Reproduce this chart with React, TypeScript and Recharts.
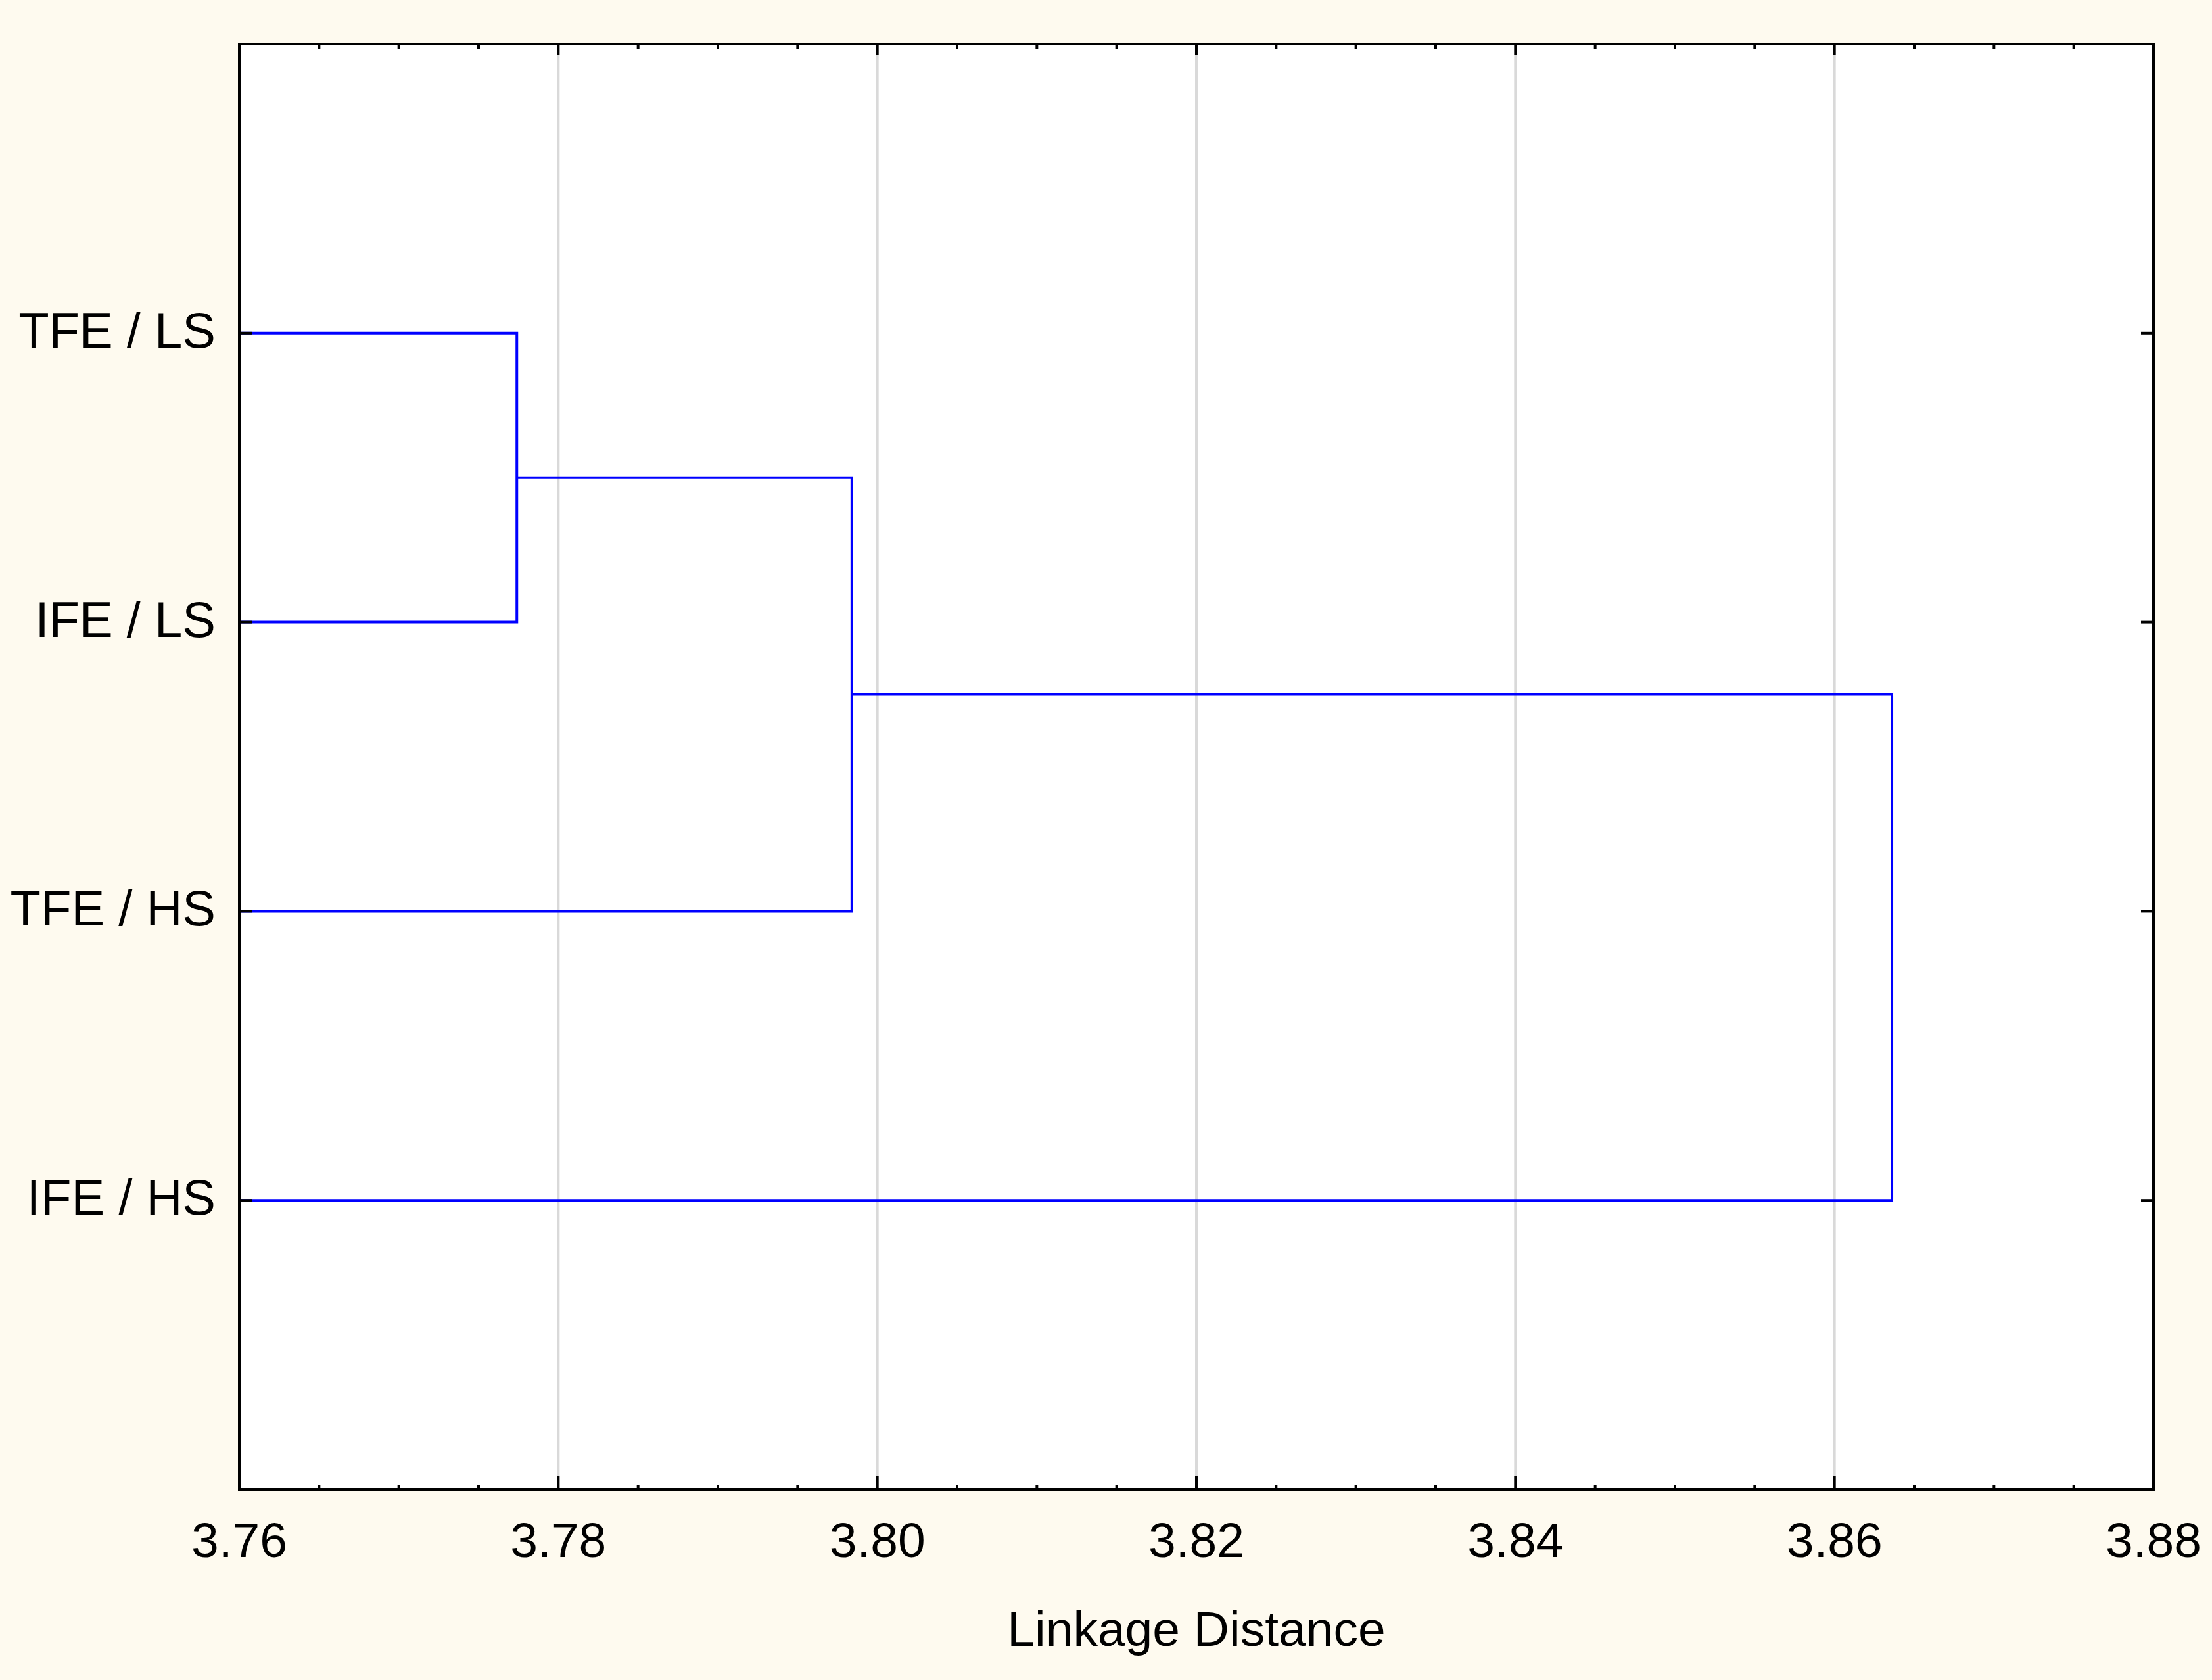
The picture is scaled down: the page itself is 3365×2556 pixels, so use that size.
import React from 'react';
import { LineChart, Line, XAxis, YAxis, CartesianGrid } from 'recharts';

// leaves, top to bottom
const leafLabels = ['TFE / LS', 'IFE / LS', 'TFE / HS', 'IFE / HS'];
const leafPositions = [1, 2, 3, 4];

// linkage steps: ids 0..3 are leaves, 4.. are earlier merges
const mergeLeft = [0, 4, 5];
const mergeRight = [1, 2, 3];
const mergeDistance = [3.7774, 3.7984, 3.8636];

const xMajorTicks = [3.76, 3.78, 3.8, 3.82, 3.84, 3.86, 3.88];
const xMinorTicks = [
    3.765, 3.77, 3.775, 3.785, 3.79, 3.795, 3.805, 3.81, 3.815,
    3.825, 3.83, 3.835, 3.845, 3.85, 3.855, 3.865, 3.87, 3.875,
];
const xGridValues = [3.78, 3.8, 3.82, 3.84, 3.86];
const xDomain: [number, number] = [3.76, 3.88];

const FONT = '"Liberation Sans", Arial, sans-serif';
const BLUE = '#0000ff';

const allXTicks = [...xMajorTicks, ...xMinorTicks].sort((a, b) => a - b);
const isMajor = (v: number) => xMajorTicks.some((m) => Math.abs(m - v) < 1e-9);

// build the U-shaped segments of the dendrogram
const buildSegments = () => {
    const nodeX: number[] = leafPositions.map(() => xDomain[0]);
    const nodeY: number[] = [...leafPositions];
    const segs: { x: number; y: number }[][] = [];
    mergeDistance.forEach((d, i) => {
        const l = mergeLeft[i];
        const r = mergeRight[i];
        segs.push([
            { x: nodeX[l], y: nodeY[l] },
            { x: d, y: nodeY[l] },
            { x: d, y: nodeY[r] },
            { x: nodeX[r], y: nodeY[r] },
        ]);
        nodeX.push(d);
        nodeY.push((nodeY[l] + nodeY[r]) / 2);
    });
    return segs;
};

const segments = buildSegments();

const LeftTick = ({ x, y, payload }: any) => (
    <g>
        <line x1={x} x2={x + 19} y1={y} y2={y} stroke="#000" strokeWidth={4} />
        <text x={x - 36} y={y + 22} textAnchor="end" fontSize={76} fontFamily={FONT} fill="#000">
            {leafLabels[payload.value - 1]}
        </text>
    </g>
);

const RightTick = ({ x, y }: any) => (
    <line x1={x} x2={x - 19} y1={y} y2={y} stroke="#000" strokeWidth={4} />
);

const BottomTick = ({ x, y, payload }: any) => {
    const major = isMajor(payload.value);
    return (
        <g>
            <line x1={x} x2={x} y1={y} y2={y - (major ? 20 : 7)} stroke="#000" strokeWidth={4} />
            {major && (
                <text x={x} y={y + 103} textAnchor="middle" fontSize={75} fontFamily={FONT} fill="#000">
                    {payload.value.toFixed(2)}
                </text>
            )}
        </g>
    );
};

const TopTick = ({ x, y, payload }: any) => {
    const major = isMajor(payload.value);
    return <line x1={x} x2={x} y1={y} y2={y + (major ? 17 : 7)} stroke="#000" strokeWidth={4} />;
};

const frameLine = { stroke: '#000', strokeWidth: 4, strokeLinecap: 'square' as const };

export default function App() {
    return (
        <div style={{ width: 3365, height: 2556, background: '#fefaef' }}>
            <style>{'body{margin:0}'}</style>
            <LineChart width={3365} height={2556} margin={{ top: 0, right: 0, bottom: 0, left: 0 }}>
                <CartesianGrid
                    xAxisId="bottom"
                    yAxisId="left"
                    horizontal={false}
                    verticalValues={xGridValues}
                    stroke="#d9d9d9"
                    strokeWidth={4}
                    fill="#ffffff"
                />
                <XAxis
                    xAxisId="bottom"
                    type="number"
                    dataKey="x"
                    domain={xDomain}
                    ticks={allXTicks}
                    interval={0}
                    height={290}
                    tickSize={0}
                    tickMargin={0}
                    tickLine={false}
                    axisLine={frameLine}
                    tick={<BottomTick />}
                    allowDataOverflow
                    label={{
                        value: 'Linkage Distance',
                        position: 'insideBottom',
                        offset: 52,
                        fontSize: 75,
                        fontFamily: FONT,
                        fill: '#000',
                    }}
                />
                <XAxis
                    xAxisId="top"
                    orientation="top"
                    type="number"
                    dataKey="x"
                    domain={xDomain}
                    ticks={allXTicks}
                    interval={0}
                    height={67}
                    tickSize={0}
                    tickMargin={0}
                    tickLine={false}
                    axisLine={frameLine}
                    tick={<TopTick />}
                    allowDataOverflow
                />
                <YAxis
                    yAxisId="left"
                    type="number"
                    domain={[0, 5]}
                    reversed
                    ticks={leafPositions}
                    interval={0}
                    width={364}
                    tickSize={0}
                    tickMargin={0}
                    tickLine={false}
                    axisLine={frameLine}
                    tick={<LeftTick />}
                    allowDataOverflow
                />
                <YAxis
                    yAxisId="right"
                    orientation="right"
                    type="number"
                    domain={[0, 5]}
                    reversed
                    ticks={leafPositions}
                    interval={0}
                    width={89}
                    tickSize={0}
                    tickMargin={0}
                    tickLine={false}
                    axisLine={frameLine}
                    tick={<RightTick />}
                    allowDataOverflow
                />
                {segments.map((seg, i) => (
                    <Line
                        key={i}
                        xAxisId="bottom"
                        yAxisId="left"
                        data={seg}
                        dataKey="y"
                        type="linear"
                        stroke={BLUE}
                        strokeWidth={4}
                        dot={false}
                        activeDot={false}
                        isAnimationActive={false}
                    />
                ))}
            </LineChart>
        </div>
    );
}
